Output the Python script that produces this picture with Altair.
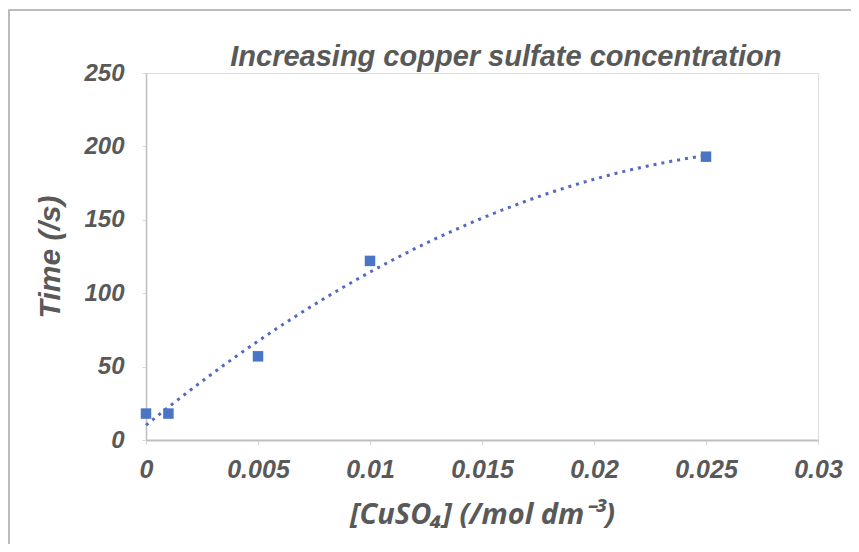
import altair as alt
import pandas as pd

# Data
conc = [0.0, 0.001, 0.005, 0.010, 0.025]
time_s = [18, 18, 57, 122, 193]

x_ticks = [0, 0.005, 0.01, 0.015, 0.02, 0.025, 0.03]
y_ticks = [0, 50, 100, 150, 200, 250]

df = pd.DataFrame({"conc": conc, "time": time_s})

GRAY = "#595959"
AXIS_GRAY = "#BFBFBF"
PT_COLOR = "#4A74C4"
LINE_COLOR = "#5369C2"

x_enc = alt.X(
    "conc:Q",
    scale=alt.Scale(domain=[0, 0.03], nice=False, zero=True),
    axis=alt.Axis(
        values=x_ticks,
        title="[CuSO₄] (/mol dm⁻³)",
        titleFont="Open Sans",
        titleFontSize=29,
        titleFontStyle="italic",
        titleFontWeight="bold",
        titleColor=GRAY,
        titlePadding=18,
        labelFont="Liberation Sans",
        labelFontSize=25,
        labelFontStyle="italic",
        labelFontWeight="bold",
        labelColor=GRAY,
        labelPadding=13,
        labelExpr="datum.value == 0 ? '0' : format(datum.value, '~g')",
        grid=False,
        domainColor=AXIS_GRAY,
        domainWidth=2,
        tickColor="#D9D9D9",
        tickSize=4,
        labelFlush=False,
    ),
)

y_enc = alt.Y(
    "time:Q",
    scale=alt.Scale(domain=[0, 250], nice=False),
    axis=alt.Axis(
        values=y_ticks,
        title="Time (/s)",
        titleFont="Liberation Sans",
        titleFontSize=30,
        titleFontStyle="italic",
        titleFontWeight="bold",
        titleColor=GRAY,
        titlePadding=18,
        labelFont="Liberation Sans",
        labelFontSize=24,
        labelFontStyle="italic",
        labelFontWeight="bold",
        labelColor=GRAY,
        labelPadding=18,
        grid=False,
        domainColor=AXIS_GRAY,
        domainWidth=1.5,
        tickColor="#D9D9D9",
        tickSize=4,
        labelFlush=False,
    ),
)

points = alt.Chart(df).mark_square(size=110, color=PT_COLOR, opacity=1).encode(
    x=x_enc, y=y_enc
)

trend = (
    alt.Chart(df)
    .transform_regression("conc", "time", method="poly", order=2, extent=[0, 0.025])
    .mark_line(color=LINE_COLOR, strokeWidth=3, strokeDash=[3, 5])
    .encode(x="conc:Q", y="time:Q")
)

frame = (
    alt.Chart(pd.DataFrame({"k": [0]}))
    .mark_rect(fill=None, stroke="#A6A6A6", strokeWidth=1.5)
    .encode(
        x=alt.value(-137), x2=alt.value(800),
        y=alt.value(-63), y2=alt.value(560),
    )
)

chart = (
    alt.layer(frame, trend, points)
    .properties(
        width=672,
        height=367,
        autosize=alt.AutoSizeParams(type="none"),
        padding={"left": 138, "top": 65, "right": 33, "bottom": 104},
        title=alt.TitleParams(
            "Increasing copper sulfate concentration",
            font="Liberation Sans",
            fontSize=29,
            fontStyle="italic",
            fontWeight="bold",
            color=GRAY,
            anchor="start",
            dx=222,
            dy=67,
            offset=4,
        ),
    )
    .configure_view(stroke=None)
    .configure(background="white")
)

chart.save("out.html", embed_options={"renderer": "svg", "actions": False})
